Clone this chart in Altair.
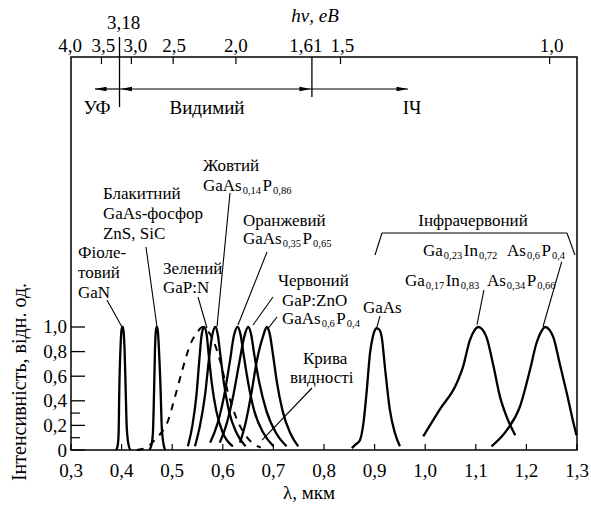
import altair as alt
import pandas as pd

# ---------------- spectra: wavelength (um) and relative intensity ----------------
gan_lam = [0.389, 0.392, 0.394, 0.3955, 0.398, 0.400, 0.402, 0.404, 0.406, 0.408, 0.410, 0.413, 0.417]
gan_int = [0.0, 0.03, 0.12, 0.5, 0.85, 0.98, 1.0, 0.96, 0.8, 0.5, 0.2, 0.06, 0.0]

blue_lam = [0.455, 0.459, 0.462, 0.464, 0.466, 0.468, 0.470, 0.472, 0.474, 0.477, 0.479, 0.482, 0.486]
blue_int = [0.0, 0.04, 0.15, 0.45, 0.82, 0.98, 1.0, 0.95, 0.8, 0.5, 0.22, 0.07, 0.0]

green_lam = [0.531, 0.540, 0.548, 0.554, 0.558, 0.563, 0.568, 0.572, 0.578, 0.587, 0.600, 0.620]
green_int = [0.03, 0.2, 0.45, 0.75, 0.93, 1.0, 0.94, 0.78, 0.55, 0.32, 0.14, 0.03]

yellow_lam = [0.545, 0.555, 0.565, 0.573, 0.579, 0.585, 0.590, 0.595, 0.602, 0.612, 0.627, 0.645]
yellow_int = [0.03, 0.2, 0.45, 0.75, 0.93, 1.0, 0.94, 0.78, 0.55, 0.32, 0.14, 0.03]

orange_lam = [0.575, 0.590, 0.603, 0.614, 0.622, 0.629, 0.635, 0.641, 0.650, 0.662, 0.680, 0.700]
orange_int = [0.06, 0.22, 0.45, 0.72, 0.93, 1.0, 0.94, 0.78, 0.55, 0.32, 0.14, 0.03]

red1_lam = [0.594, 0.608, 0.621, 0.633, 0.643, 0.650, 0.656, 0.662, 0.672, 0.686, 0.705, 0.726]
red1_int = [0.06, 0.22, 0.45, 0.72, 0.93, 1.0, 0.94, 0.78, 0.55, 0.32, 0.14, 0.03]

red2_lam = [0.634, 0.645, 0.656, 0.667, 0.680, 0.687, 0.693, 0.699, 0.707, 0.718, 0.733, 0.749]
red2_int = [0.06, 0.22, 0.45, 0.72, 0.93, 1.0, 0.94, 0.78, 0.55, 0.32, 0.14, 0.03]

gaas_lam = [0.855, 0.861, 0.871, 0.878, 0.884, 0.891, 0.897, 0.904, 0.909, 0.914, 0.921, 0.930, 0.940, 0.950]
gaas_int = [0.015, 0.04, 0.08, 0.22, 0.46, 0.79, 0.93, 0.99, 0.98, 0.92, 0.65, 0.33, 0.14, 0.03]

ir1_lam = [0.996, 1.029, 1.062, 1.075, 1.088, 1.097, 1.105, 1.113, 1.121, 1.135, 1.148, 1.161, 1.178]
ir1_int = [0.11, 0.33, 0.54, 0.68, 0.89, 0.97, 1.0, 0.98, 0.92, 0.68, 0.43, 0.27, 0.12]

ir2_lam = [1.131, 1.161, 1.187, 1.207, 1.220, 1.229, 1.237, 1.245, 1.253, 1.266, 1.280, 1.293, 1.299]
ir2_int = [0.03, 0.16, 0.35, 0.65, 0.87, 0.96, 1.0, 0.98, 0.92, 0.70, 0.46, 0.22, 0.12]

# eye sensitivity ("visibility") curve, dashed
vis_lam = [0.43, 0.45, 0.465, 0.48, 0.492, 0.50, 0.51, 0.52, 0.535, 0.55, 0.56, 0.57,
           0.585, 0.595, 0.61, 0.625, 0.64, 0.655, 0.675]
vis_int = [0.0, 0.02, 0.08, 0.15, 0.24, 0.35, 0.5, 0.65, 0.85, 0.96, 1.0, 0.97,
           0.85, 0.72, 0.47, 0.28, 0.15, 0.07, 0.02]

# ---------------- axes ----------------
x_ticks = [0.3, 0.4, 0.5, 0.6, 0.7, 0.8, 0.9, 1.0, 1.1, 1.2, 1.3]
x_labels = ["0,3", "0,4", "0,5", "0,6", "0,7", "0,8", "0,9", "1,0", "1,1", "1,2", "1,3"]
y_ticks = [0.0, 0.2, 0.4, 0.6, 0.8, 1.0]
y_labels = ["0", "0,2", "0,4", "0,6", "0,8", "1,0"]
y_minor = [0.1, 0.3]
energy = [4.0, 3.5, 3.0, 2.5, 2.0, 1.61, 1.5, 1.0]
energy_labels = ["4,0", "3,5", "3,0", "2,5", "2,0", "1,61", "1,5", "1,0"]
energy_label_shift_px = [-9, 2, 4, 1, 0, -6, 2, 2]
energy_tick = [3.5, 3.0, 2.5, 2.0, 1.5, 1.0]
E_uv, E_ir = 3.18, 1.61

FONT = "Liberation Serif"
W, H = 506, 393
YMAX = 3.195
PX = 1.0 / W            # one pixel in wavelength units
TOP_SHIFT = 3 * PX      # the printed energy scale sits slightly right
xs = alt.Scale(domain=[0.3, 1.3], nice=False, zero=False)
ys = alt.Scale(domain=[0, YMAX], nice=False, zero=False)

solid = [("GaN", gan_lam, gan_int), ("blue", blue_lam, blue_int),
         ("green", green_lam, green_int), ("yellow", yellow_lam, yellow_int),
         ("orange", orange_lam, orange_int), ("red1", red1_lam, red1_int),
         ("red2", red2_lam, red2_int), ("GaAs", gaas_lam, gaas_int),
         ("ir1", ir1_lam, ir1_int), ("ir2", ir2_lam, ir2_int)]
curves = pd.DataFrame([dict(series=n, lam=l, I=v) for n, ls, vs in solid for l, v in zip(ls, vs)])
vis = pd.DataFrame({"lam": vis_lam, "I": vis_int})


def X(f="lam"):
    return alt.X(f"{f}:Q", scale=xs, axis=None)


def Y(f="I"):
    return alt.Y(f"{f}:Q", scale=ys, axis=None)


def txt(data, size, **kw):
    # vertically centred text drawn on the alphabetic baseline
    return alt.Chart(data).mark_text(font=FONT, fontSize=size, color="black",
                                     baseline="alphabetic", dy=round(size * 0.34, 1), **kw)


lines = alt.Chart(curves).mark_line(interpolate="monotone", color="black", strokeWidth=2.3).encode(
    x=X(), y=Y(), detail="series:N")
vis_line = alt.Chart(vis).mark_line(interpolate="monotone", color="black", strokeWidth=2,
                                    strokeDash=[7, 7]).encode(x=X(), y=Y())

# tick marks (inward)
xt = pd.DataFrame({"lam": x_ticks, "lab": x_labels})
bot_ticks = alt.Chart(xt).mark_rule(color="black", strokeWidth=1.2).encode(
    x=X(), y=alt.value(H), y2=alt.value(H - 6))
bot_labels = txt(xt, 19, align="center").encode(
    x=X(), y=alt.value(H + 20), text="lab:N")

yt = pd.DataFrame({"I": y_ticks, "lab": y_labels})
left_ticks = alt.Chart(yt).mark_rule(color="black", strokeWidth=1.3).encode(
    y=Y(), x=alt.value(0), x2=alt.value(14))
left_minor = alt.Chart(pd.DataFrame({"I": y_minor})).mark_rule(color="black", strokeWidth=1.2).encode(
    y=Y(), x=alt.value(0), x2=alt.value(9))
left_labels = txt(yt, 19, align="right").encode(
    y=Y(), x=alt.value(-4), text="lab:N")

et = pd.DataFrame({"E": energy, "lab": energy_labels, "s": energy_label_shift_px})
et["lam"] = 1.24 / et["E"] + TOP_SHIFT + et["s"] * PX
etk = pd.DataFrame({"E": energy_tick})
etk["lam"] = 1.24 / etk["E"] + TOP_SHIFT
top_ticks = alt.Chart(etk).mark_rule(color="black", strokeWidth=1.2).encode(
    x=X(), y=alt.value(0), y2=alt.value(7))
top_labels = txt(et, 19, align="center").encode(
    x=X(), y=alt.value(-12), text="lab:N")

bound = pd.DataFrame({"E": [E_uv, E_ir], "top": [-20, 0], "bot": [50, 40], "lab": ["3,18", ""]})
bound["lam"] = 1.24 / bound["E"] + TOP_SHIFT
bound_rules = alt.Chart(bound).mark_rule(color="black", strokeWidth=1.3).encode(
    x=X(), y=alt.Y("top:Q", scale=None), y2="bot:Q")
uv_label = txt(bound.iloc[[0]], 19, align="center", dx=4).encode(
    x=X(), y=alt.value(-35), text="lab:N")

# arrows of the spectral ranges
lam_uv, lam_ir = bound["lam"].iloc[0], bound["lam"].iloc[1]
arrows = pd.DataFrame({"a": [0.3474, lam_uv, lam_ir], "b": [lam_uv, lam_ir, 0.966]})
arrow_lines = alt.Chart(arrows).mark_rule(color="black", strokeWidth=1.2).encode(
    x=alt.X("a:Q", scale=xs, axis=None), x2="b:Q", y=alt.value(32))
heads_l = pd.DataFrame({"lam": [0.3474, lam_uv + 0.002]})
heads_r = pd.DataFrame({"lam": [lam_ir - 0.002, 0.966]})
head_left = alt.Chart(heads_l).mark_point(shape="M0,0L2.3,-0.45L2.3,0.45Z", filled=True, size=100,
                                          color="black", opacity=1).encode(x=X(), y=alt.value(32))
head_right = alt.Chart(heads_r).mark_point(shape="M0,0L-2.3,-0.45L-2.3,0.45Z", filled=True, size=100,
                                           color="black", opacity=1).encode(x=X(), y=alt.value(32))
ranges = pd.DataFrame({"lam": [0.3514, 0.5688, 0.9739], "lab": ["УФ", "Видимий", "ІЧ"]})
range_labels = txt(ranges, 19, align="center").encode(
    x=X(), y=alt.value(50), text="lab:N")

# plain annotations
ann_text = ["Фіоле-", "товий", "GaN",
            "Блакитний", "GaAs-фосфор", "ZnS, SiC",
            "Жовтий", "Зелений", "GaP:N", "Оранжевий",
            "Червоний", "GaP:ZnO", "GaAs", "Крива", "видності"]
ann_lam = [0.3138, 0.3138, 0.3138,
           0.3632, 0.3632, 0.3632,
           0.5609, 0.4818, 0.4818, 0.6399,
           0.709, 0.717, 0.877, 0.7585, 0.7328]
ann_I = [1.610, 1.447, 1.285,
         2.089, 1.927, 1.764,
         2.317, 1.480, 1.325, 1.870,
         1.382, 1.220, 1.16, 0.748, 0.593]
ann = pd.DataFrame({"t": ann_text, "lam": ann_lam, "I": ann_I})
ann_marks = txt(ann, 17, align="left").encode(x=X(), y=Y(), text="t:N")

# chemical formulas with subscripts: (element, index) pairs
formulas = [
    ([("GaAs", "0,14"), ("P", "0,86")], 0.5609, 2.154),
    ([("GaAs", "0,35"), ("P", "0,65")], 0.6399, 1.724),
    ([("GaAs", "0,6"), ("P", "0,4")], 0.717, 1.073),
    ([("Ga", "0,23"), ("In", "0,72")], 0.9957, 1.626),
    ([("As", "0,6"), ("P", "0,4")], 1.1617, 1.626),
    ([("Ga", "0,17"), ("In", "0,83")], 0.960, 1.382),
    ([("As", "0,34"), ("P", "0,66")], 1.1221, 1.382),
]
MAIN, SUB = 17, 10.5
glyph_w = {"G": 0.722, "a": 0.444, "A": 0.722, "s": 0.389, "P": 0.556, "I": 0.333,
           "n": 0.5, ",": 0.25}
width = lambda s, size: sum(glyph_w.get(c, 0.5) for c in s) * size
main_rows, sub_rows = [], []
for parts, lam0, I0 in formulas:
    off = 0.0
    for el, idx in parts:
        main_rows.append(dict(t=el, lam=lam0 + off * PX, I=I0))
        off += width(el, MAIN) + 1
        sub_rows.append(dict(t=idx, lam=lam0 + off * PX, I=I0 - 5.5 / 123))
        off += width(idx, SUB) + 1.5
form_main = txt(pd.DataFrame(main_rows), MAIN, align="left").encode(
    x=X(), y=Y(), text="t:N")
form_sub = txt(pd.DataFrame(sub_rows), SUB, align="left").encode(
    x=X(), y=Y(), text="t:N")

ir_title = txt(pd.DataFrame({"lam": [1.0945], "I": [1.87], "t": ["Інфрачервоний"]}), 17,
               align="center").encode(x=X(), y=Y(), text="t:N")

lead_x1 = [0.3711, 0.4482, 0.6142, 0.551, 0.6874, 0.6992, 0.7071, 0.9107, 1.116, 1.2698, 0.7763,
           0.9008, 0.9146, 1.2802]
lead_y1 = [1.220, 1.650, 2.089, 1.244, 1.610, 1.244, 1.081, 1.09, 1.30, 1.531, 0.504,
           1.585, 1.764, 1.764]
lead_x2 = [0.4008, 0.470, 0.5885, 0.5688, 0.630, 0.6597, 0.6874, 0.904, 1.1024, 1.2328, 0.6775,
           0.9146, 1.2802, 1.2960]
lead_y2 = [1.0, 1.0, 1.0, 0.992, 1.016, 1.016, 0.976, 0.99, 1.02, 1.002, 0.081,
           1.764, 1.764, 1.585]
leads = pd.DataFrame({"x1": lead_x1, "y1": lead_y1, "x2": lead_x2, "y2": lead_y2})
lead_marks = alt.Chart(leads).mark_rule(color="black", strokeWidth=1.1).encode(
    x=alt.X("x1:Q", scale=xs, axis=None), y=alt.Y("y1:Q", scale=ys, axis=None), x2="x2:Q", y2="y2:Q")

# axis titles
titles = txt(pd.DataFrame({"t": ["λ, мкм"]}), 19, align="center").encode(
    x=alt.value(238), y=alt.value(435), text="t:N")
ytitle = alt.Chart(pd.DataFrame({"t": ["Інтенсивність, відн. од."]})).mark_text(
    font=FONT, fontSize=20, color="black", align="center", baseline="middle", angle=270).encode(
    x=alt.value(-51), y=alt.value(325), text="t:N")
etitle = txt(pd.DataFrame({"t": ["hν, еВ"]}), 19, fontStyle="italic", align="center").encode(
    x=alt.value(244), y=alt.value(-42), text="t:N")

chart = alt.layer(
    vis_line, lines, bot_ticks, bot_labels, left_ticks, left_minor, left_labels,
    top_ticks, top_labels, bound_rules, uv_label, arrow_lines, head_left, head_right,
    range_labels, ann_marks, form_main, form_sub, ir_title, lead_marks, titles, ytitle, etitle
).properties(
    width=W, height=H,
    padding={"left": 71, "top": 57, "right": 14, "bottom": 56},
    autosize=alt.AutoSizeParams(type="none"),
    background="white",
).configure_view(stroke="black", strokeWidth=1.5)

chart.save("out.html", embed_options={"renderer": "svg", "actions": False})
